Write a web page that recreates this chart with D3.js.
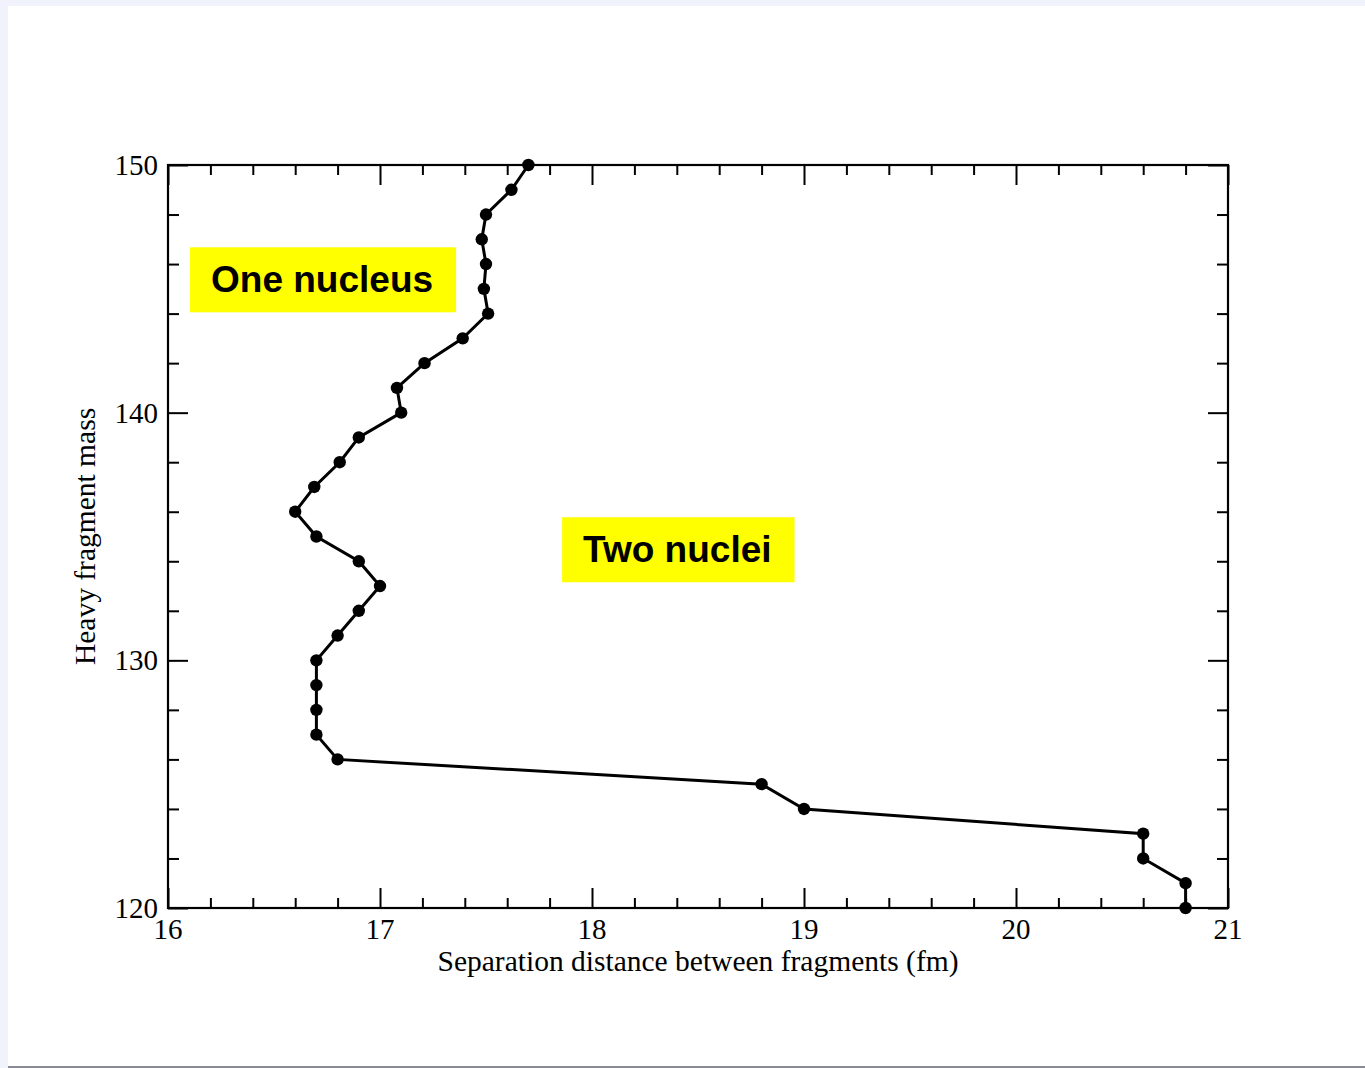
<!DOCTYPE html>
<html>
<head>
<meta charset="utf-8">
<script src="https://cdn.jsdelivr.net/npm/d3@7"></script>
<style>
  html, body { margin: 0; padding: 0; background: #f0f3fc; }
  svg { display: block; }
</style>
</head>
<body>
<svg id="chart" width="1365" height="1068"></svg>
<script>
// Separation distance (fm) at which the heavy fragment splits, per mass
const heavyMass = [150, 149, 148, 147, 146, 145, 144, 143, 142, 141, 140, 139, 138, 137, 136, 135,
                   134, 133, 132, 131, 130, 129, 128, 127, 126, 125, 124, 123, 122, 121, 120];
const separation = [17.70, 17.62, 17.50, 17.48, 17.50, 17.49, 17.51, 17.39, 17.21, 17.08, 17.10, 16.90,
                    16.81, 16.69, 16.60, 16.70, 16.90, 17.00, 16.90, 16.80, 16.70, 16.70, 16.70, 16.70,
                    16.80, 18.80, 19.00, 20.60, 20.60, 20.80, 20.80];
const xTickLabels = [16, 17, 18, 19, 20, 21];
const yTickLabels = [120, 130, 140, 150];
// region annotations: text start and baseline in data units
const regionLabels = [
  { text: "One nucleus", x: 16.203, y: 144.86 },
  { text: "Two nuclei",  x: 17.958, y: 133.96 }
];

const svg = d3.select("#chart");
const W = 1365, H = 1068;

// page panel
svg.append("rect").attr("x", 8).attr("y", 6).attr("width", W - 8).attr("height", 1060).attr("fill", "#ffffff");
svg.append("rect").attr("x", 8).attr("y", 1066).attr("width", W - 8).attr("height", 2).attr("fill", "#8b8b98");

const plotL = 168, plotR = 1228, plotT = 165, plotB = 908;
const x = d3.scaleLinear().domain([16, 21]).range([plotL, plotR]);
const y = d3.scaleLinear().domain([120, 150]).range([plotB, plotT]);

const serif = "'Liberation Serif', 'Times New Roman', serif";
const sans = "'Liberation Sans', Arial, Helvetica, sans-serif";

const g = svg.append("g");

// inward ticks on all four sides
const xMinor = d3.range(16, 21.0001, 0.2).filter(v => Math.abs(v - Math.round(v)) > 1e-6);
const yMinor = d3.range(120, 150.0001, 2).filter(v => v % 10 !== 0);

function addAxis(axisGen, tx, ty) {
  const a = g.append("g").attr("transform", `translate(${tx},${ty})`).call(axisGen);
  a.select(".domain").remove();
  a.selectAll("line").attr("stroke", "#000").attr("stroke-width", 2);
  a.selectAll("text").remove();
  return a;
}
// major
addAxis(d3.axisTop(x).tickValues(xTickLabels).tickSize(20), 0, plotB);
addAxis(d3.axisBottom(x).tickValues(xTickLabels).tickSize(20), 0, plotT);
addAxis(d3.axisRight(y).tickValues(yTickLabels).tickSize(20), plotL, 0);
addAxis(d3.axisLeft(y).tickValues(yTickLabels).tickSize(20), plotR, 0);
// minor
addAxis(d3.axisTop(x).tickValues(xMinor).tickSize(10), 0, plotB);
addAxis(d3.axisBottom(x).tickValues(xMinor).tickSize(10), 0, plotT);
addAxis(d3.axisRight(y).tickValues(yMinor).tickSize(11), plotL, 0);
addAxis(d3.axisLeft(y).tickValues(yMinor).tickSize(11), plotR, 0);

// frame
g.append("rect").attr("x", plotL).attr("y", plotT).attr("width", plotR - plotL).attr("height", plotB - plotT)
  .attr("fill", "none").attr("stroke", "#000").attr("stroke-width", 2.2);

// tick labels
g.selectAll(".xl").data(xTickLabels).join("text")
  .attr("x", d => x(d)).attr("y", plotB + 31)
  .attr("text-anchor", "middle").attr("font-family", serif).attr("font-size", 29)
  .text(d => d);
g.selectAll(".yl").data(yTickLabels).join("text")
  .attr("x", plotL - 10).attr("y", d => y(d) + 10)
  .attr("text-anchor", "end").attr("font-family", serif).attr("font-size", 29)
  .text(d => d);

// axis titles
g.append("text").attr("x", (plotL + plotR) / 2).attr("y", plotB + 63)
  .attr("text-anchor", "middle").attr("font-family", serif).attr("font-size", 29.5)
  .text("Separation distance between fragments (fm)");
g.append("text").attr("transform", `translate(${95},${(plotT + plotB) / 2}) rotate(-90)`)
  .attr("text-anchor", "middle").attr("font-family", serif).attr("font-size", 29.5)
  .text("Heavy fragment mass");

// region labels on yellow boxes
regionLabels.forEach(r => {
  const t = g.append("text").attr("x", x(r.x)).attr("y", y(r.y))
    .attr("font-family", sans).attr("font-weight", "bold").attr("font-size", 37)
    .attr("fill", "#000").text(r.text);
  const bb = t.node().getBBox();
  const cy = bb.y + bb.height / 2;
  g.insert("rect", () => t.node())
    .attr("x", bb.x - 21).attr("y", cy - 32.5)
    .attr("width", bb.width + 44).attr("height", 65)
    .attr("fill", "#ffff00");
});

// curve and markers
const pts = heavyMass.map((m, i) => ({ m, s: separation[i] }));
g.append("path").datum(pts)
  .attr("d", d3.line().x(d => x(d.s)).y(d => y(d.m)))
  .attr("fill", "none").attr("stroke", "#000").attr("stroke-width", 3);
g.selectAll(".pt").data(pts).join("circle")
  .attr("cx", d => x(d.s)).attr("cy", d => y(d.m)).attr("r", 6.2).attr("fill", "#000");
</script>
</body>
</html>
